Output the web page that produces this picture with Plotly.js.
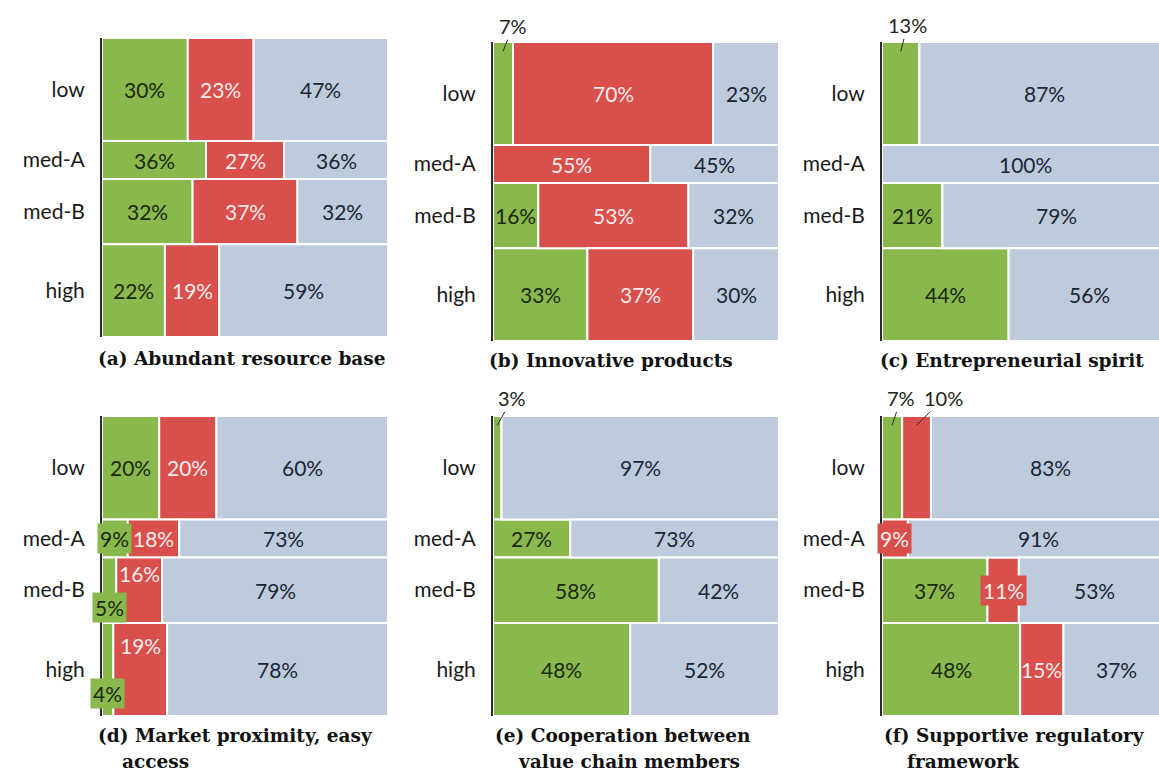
<!DOCTYPE html>
<html><head><meta charset="utf-8">
<script src="https://cdn.plot.ly/plotly-3.0.1.min.js"></script>
<style>html,body{margin:0;padding:0;background:#fff}#chart{width:1159px;height:772px}</style>
</head><body><div id="chart"></div>
<script>
// ---- data ----
const rowLabels = ['low', 'med-A', 'med-B', 'high'];
const rowSizes = [30, 11, 19, 27];

const aGreen = [30, 36, 32, 22], aRed = [23, 27, 37, 19], aBlue = [47, 36, 32, 59];
const bGreen = [7, 0, 16, 33],  bRed = [70, 55, 53, 37], bBlue = [23, 45, 32, 30];
const cGreen = [13, 0, 21, 44], cRed = [0, 0, 0, 0],     cBlue = [87, 100, 79, 56];
const dGreen = [20, 9, 5, 4],   dRed = [20, 18, 16, 19], dBlue = [60, 73, 79, 78];
const eGreen = [3, 27, 58, 48], eRed = [0, 0, 0, 0],     eBlue = [97, 73, 42, 52];
const fGreen = [7, 0, 37, 48],  fRed = [10, 9, 11, 15],  fBlue = [83, 91, 53, 37];

const titleLine1 = ['(a) Abundant resource base', '(b) Innovative products', '(c) Entrepreneurial spirit',
                    '(d) Market proximity, easy', '(e) Cooperation between', '(f) Supportive regulatory'];
const titleLine2 = ['', '', '', 'access', 'value chain members', 'framework'];

// ---- style ----
const colors = ['#89b84c', '#d94f4b', '#bdcbdc'];
const textColors = ['#1c2810', '#fdecec', '#1c2536'];
const panelData = [[aGreen, aRed, aBlue], [bGreen, bRed, bBlue], [cGreen, cRed, cBlue],
                   [dGreen, dRed, dBlue], [eGreen, eRed, eBlue], [fGreen, fRed, fBlue]];
const W = 1159, H = 772;
const geom = [
  {x0: 102, x1: 388, y0: 38, y1: 337, xmax: 100, tx: 96, tx2: 0, ty: 358},
  {x0: 493, x1: 779, y0: 42, y1: 341, xmax: 100, tx: 487, tx2: 0, ty: 360},
  {x0: 882, x1: 1159, y0: 42, y1: 341, xmax: 96.2, tx: 878, tx2: 0, ty: 360},
  {x0: 102, x1: 388, y0: 416, y1: 716, xmax: 100, tx: 96, tx2: 120, ty: 735},
  {x0: 493, x1: 779, y0: 416, y1: 716, xmax: 100, tx: 493, tx2: 516, ty: 735},
  {x0: 882, x1: 1159, y0: 416, y1: 716, xmax: 96.2, tx: 882, tx2: 905, ty: 735}
];
// special label treatments: key "panel-row-series"
const special = {
  '1-0-0': {out: true, ax: 10, ay: -25},
  '2-0-0': {out: true, ax: 7, ay: -26},
  '4-0-0': {out: true, ax: 15, ay: -27},
  '5-0-0': {out: true, ax: 9, ay: -27},
  '5-0-1': {out: true, ax: 27, ay: -27},
  '3-1-0': {box: true},
  '3-2-0': {box: true, yshift: -17},
  '3-2-1': {yshift: 17},
  '3-3-0': {box: true, yshift: -24},
  '3-3-1': {yshift: 24},
  '5-1-1': {box: true},
  '5-2-1': {box: true}
};

const rowStarts = [];
let acc = 0;
rowSizes.forEach(s => { rowStarts.push(acc); acc += s; });
const rowTotal = acc;
const rowCenters = rowSizes.map((s, i) => rowStarts[i] + s / 2);

const traces = [];
const annotations = [];
const layout = {
  width: W, height: H, margin: {l: 0, r: 0, t: 0, b: 0},
  paper_bgcolor: '#fff', plot_bgcolor: 'rgba(0,0,0,0)', showlegend: false,
  barmode: 'overlay', font: {family: 'Lato, sans-serif'}
};

panelData.forEach((series, p) => {
  const g = geom[p];
  const xa = 'x' + (p ? p + 1 : ''), ya = 'y' + (p ? p + 1 : '');
  const xk = 'xaxis' + (p ? p + 1 : ''), yk = 'yaxis' + (p ? p + 1 : '');
  layout[xk] = {domain: [g.x0 / W, g.x1 / W], range: [0, g.xmax], visible: false, fixedrange: true, anchor: ya};
  layout[yk] = {domain: [1 - g.y1 / H, 1 - g.y0 / H], range: [rowTotal, 0], anchor: xa,
    tickmode: 'array', tickvals: rowCenters, ticktext: rowLabels, ticks: '', ticklabelstandoff: 11,
    tickfont: {family: 'Lato, sans-serif', size: 21, color: '#1a1a1a'},
    showgrid: false, zeroline: false, showline: true, linecolor: '#2b2b2b', linewidth: 2, fixedrange: true};
  // row sums so every row spans the full 100% width
  const rowSums = rowSizes.map((_, r) => series.reduce((t, vals) => t + vals[r], 0));
  const widths = series.map(vals => vals.map((v, r) => v / rowSums[r] * 100));
  const bases = [[], [], []];
  rowSizes.forEach((_, r) => {
    let b = 0;
    widths.forEach((w, s) => { bases[s][r] = b; b += w[r]; });
  });
  series.forEach((vals, s) => {
    traces.push({type: 'bar', orientation: 'h', xaxis: xa, yaxis: ya,
      y: rowCenters, x: widths[s], base: bases[s], width: rowSizes,
      marker: {color: colors[s], line: {color: '#ffffff', width: 2}},
      textposition: 'none', hoverinfo: 'skip', showlegend: false});
    vals.forEach((v, r) => {
      if (!v) return;
      const sp = special[p + '-' + r + '-' + s] || {};
      const ann = {xref: xa, yref: ya, x: bases[s][r] + widths[s][r] / 2, y: rowCenters[r], text: v + '%',
        showarrow: false, font: {family: 'Lato, sans-serif', size: 21, color: textColors[s]}};
      if (sp.out) {
        Object.assign(ann, {y: rowStarts[r] + rowSizes[r] * 0.09, showarrow: true, arrowhead: 0,
          arrowwidth: 1, arrowcolor: '#2a2a2a', ax: sp.ax, ay: sp.ay, standoff: 0,
          font: {family: 'Lato, sans-serif', size: 20, color: '#222'}});
      }
      if (sp.box) { ann.bgcolor = colors[s]; ann.borderpad = 2; }
      if (sp.yshift) ann.yshift = sp.yshift;
      annotations.push(ann);
    });
  });
  const tf = {family: 'DejaVu Serif, serif', size: 18.5, color: '#111', weight: 'bold'};
  annotations.push({xref: 'paper', yref: 'paper', x: g.tx / W, y: 1 - g.ty / H, xanchor: 'left', yanchor: 'middle',
    text: titleLine1[p], showarrow: false, font: tf});
  if (titleLine2[p]) {
    annotations.push({xref: 'paper', yref: 'paper', x: g.tx2 / W, y: 1 - (g.ty + 26) / H, xanchor: 'left', yanchor: 'middle',
      text: titleLine2[p], showarrow: false, font: tf});
  }
});
layout.annotations = annotations;
Plotly.newPlot('chart', traces, layout, {staticPlot: true, displayModeBar: false});
</script></body></html>
